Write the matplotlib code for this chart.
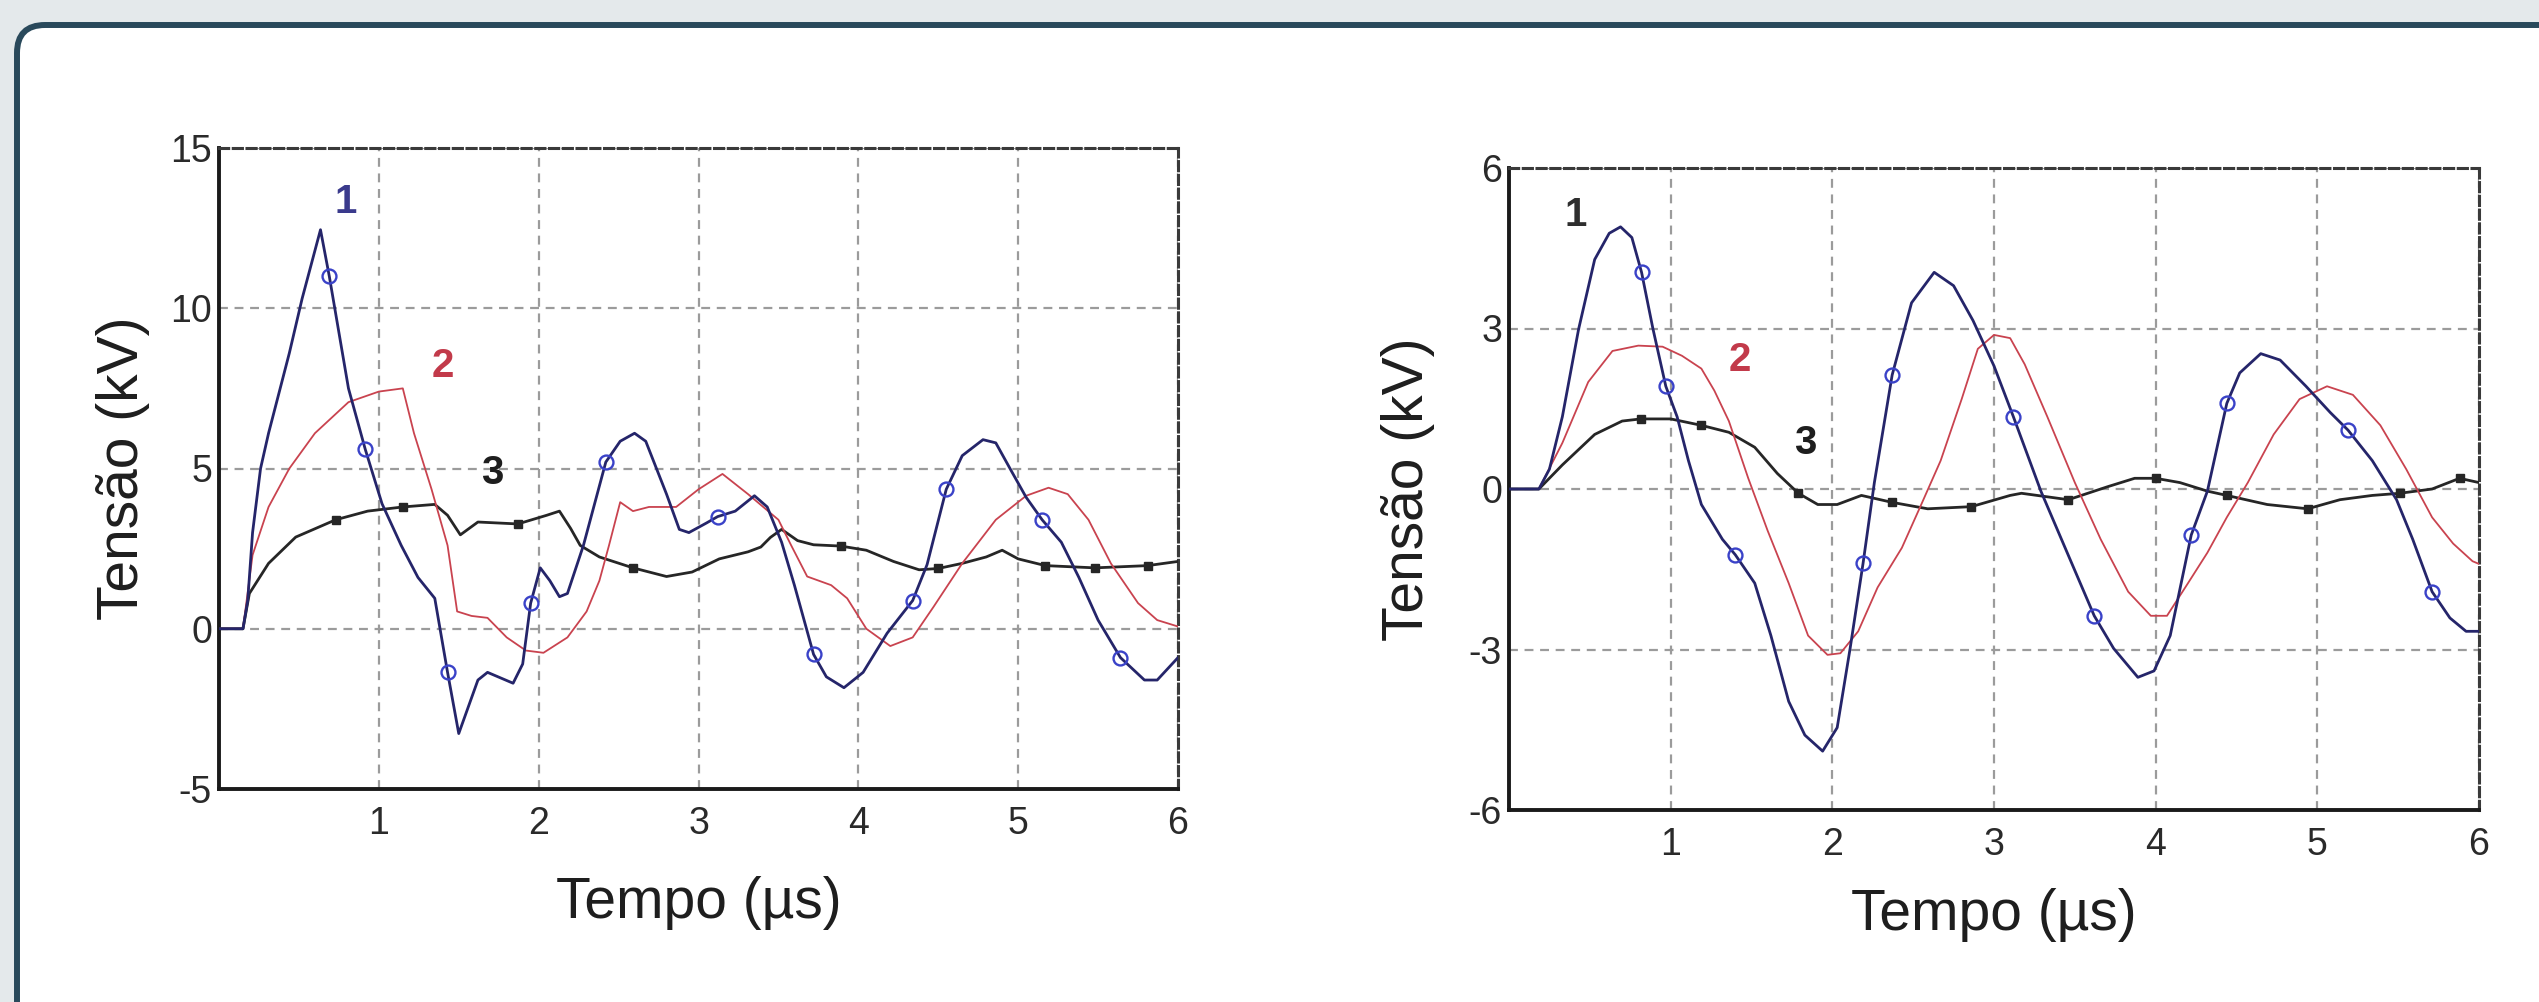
import matplotlib
matplotlib.use("Agg")
import matplotlib.pyplot as plt
from matplotlib.patches import FancyBboxPatch
from matplotlib import font_manager
import numpy as np

# left panel: curve 1 (blue, circles), curve 2 (red), curve 3 (black, squares)
l1_x = [0, 0.15, 0.18, 0.21, 0.26, 0.31, 0.44, 0.52, 0.635, 0.69, 0.75, 0.81, 0.915, 1.02, 1.14, 1.245,
        1.35, 1.43, 1.50, 1.62, 1.68, 1.84, 1.90, 1.95, 2.01, 2.07, 2.13, 2.18, 2.28, 2.42, 2.51, 2.60,
        2.67, 2.80, 2.88, 2.94, 3.05, 3.12, 3.23, 3.35, 3.43, 3.52, 3.60, 3.72, 3.80, 3.91, 4.03, 4.18,
        4.34, 4.43, 4.55, 4.65, 4.78, 4.86, 4.96, 5.05, 5.15, 5.27, 5.38, 5.50, 5.64, 5.79, 5.87, 6.0]
l1_y = [0, 0, 0.9, 3.0, 5.0, 6.1, 8.6, 10.3, 12.45, 11.0, 9.25, 7.5, 5.6, 3.9, 2.6, 1.6,
        0.95, -1.36, -3.27, -1.6, -1.36, -1.7, -1.1, 0.8, 1.9, 1.5, 1.0, 1.1, 2.6, 5.2, 5.85, 6.1,
        5.85, 4.2, 3.1, 3.0, 3.3, 3.5, 3.67, 4.15, 3.8, 2.7, 1.36, -0.8, -1.5, -1.84, -1.36, -0.14,
        0.88, 2.0, 4.35, 5.4, 5.9, 5.8, 4.9, 4.1, 3.4, 2.7, 1.6, 0.27, -0.9, -1.6, -1.6, -0.9]
l1_mx = [0.69, 0.915, 1.43, 1.95, 2.42, 3.12, 3.72, 4.34, 4.55, 5.15, 5.64]
l1_my = [11.0, 5.6, -1.36, 0.8, 5.2, 3.5, -0.8, 0.88, 4.35, 3.4, -0.9]

l2_x = [0, 0.15, 0.21, 0.31, 0.44, 0.60, 0.81, 1.0, 1.15, 1.22, 1.33, 1.43, 1.49, 1.58, 1.68, 1.80,
        1.92, 2.03, 2.18, 2.30, 2.38, 2.44, 2.51, 2.59, 2.69, 2.86, 3.0, 3.15, 3.31, 3.50, 3.58, 3.68,
        3.83, 3.93, 4.05, 4.20, 4.34, 4.47, 4.65, 4.86, 5.05, 5.19, 5.31, 5.44, 5.58, 5.75, 5.87, 6.0]
l2_y = [0, 0, 2.3, 3.8, 5.0, 6.1, 7.07, 7.4, 7.5, 6.1, 4.35, 2.6, 0.54, 0.4, 0.34, -0.27,
        -0.68, -0.75, -0.27, 0.54, 1.5, 2.6, 3.95, 3.67, 3.8, 3.8, 4.35, 4.83, 4.2, 3.4, 2.6, 1.63,
        1.36, 0.95, 0, -0.54, -0.27, 0.68, 2.04, 3.4, 4.15, 4.4, 4.2, 3.4, 2.04, 0.8, 0.27, 0.07]

l3_x = [0, 0.15, 0.19, 0.31, 0.48, 0.73, 0.93, 1.15, 1.35, 1.43, 1.51, 1.62, 1.87, 2.05, 2.13, 2.20,
        2.26, 2.38, 2.59, 2.80, 2.96, 3.13, 3.31, 3.39, 3.45, 3.52, 3.62, 3.72, 3.89, 4.05, 4.22, 4.38,
        4.50, 4.65, 4.80, 4.90, 5.00, 5.17, 5.48, 5.81, 6.0]
l3_y = [0, 0, 1.1, 2.04, 2.86, 3.4, 3.67, 3.8, 3.88, 3.54, 2.93, 3.33, 3.27, 3.54, 3.67, 3.13,
        2.6, 2.24, 1.9, 1.63, 1.77, 2.18, 2.4, 2.55, 2.85, 3.1, 2.75, 2.62, 2.58, 2.45, 2.1, 1.84,
        1.88, 2.04, 2.24, 2.45, 2.18, 1.97, 1.9, 1.97, 2.1]
l3_mx = [0.73, 1.15, 1.87, 2.59, 3.89, 4.50, 5.17, 5.48, 5.81]
l3_my = [3.4, 3.8, 3.27, 1.9, 2.58, 1.88, 1.97, 1.9, 1.97]

# right panel
r1_x = [0, 0.185, 0.25, 0.33, 0.43, 0.53, 0.62, 0.69, 0.76, 0.82, 0.89, 0.97, 1.04, 1.11, 1.19, 1.32,
        1.40, 1.52, 1.62, 1.73, 1.83, 1.94, 2.03, 2.11, 2.19, 2.26, 2.37, 2.49, 2.63, 2.75, 2.87, 3.0,
        3.12, 3.29, 3.44, 3.62, 3.74, 3.89, 3.99, 4.09, 4.22, 4.32, 4.44, 4.52, 4.65, 4.77, 4.93, 5.08,
        5.19, 5.34, 5.49, 5.59, 5.71, 5.82, 5.92, 6.0]
r1_y = [0, 0, 0.37, 1.35, 2.98, 4.29, 4.78, 4.9, 4.7, 4.05, 3.0, 1.92, 1.35, 0.53, -0.29, -0.94,
        -1.23, -1.76, -2.74, -3.97, -4.6, -4.9, -4.46, -2.98, -1.39, 0.12, 2.13, 3.48, 4.05, 3.8, 3.15, 2.3,
        1.35, -0.04, -1.1, -2.37, -2.98, -3.52, -3.4, -2.74, -0.86, -0.04, 1.6, 2.17, 2.53, 2.41, 1.92, 1.43,
        1.1, 0.53, -0.2, -0.94, -1.92, -2.41, -2.66, -2.66]
r1_mx = [0.82, 0.97, 1.40, 2.19, 2.37, 3.12, 3.62, 4.22, 4.44, 5.19, 5.71]
r1_my = [4.05, 1.92, -1.23, -1.39, 2.13, 1.35, -2.37, -0.86, 1.6, 1.1, -1.92]

r2_x = [0, 0.185, 0.33, 0.49, 0.64, 0.80, 0.95, 1.07, 1.19, 1.27, 1.36, 1.48, 1.60, 1.73, 1.85, 1.97,
        2.05, 2.16, 2.28, 2.43, 2.55, 2.67, 2.80, 2.90, 3.0, 3.10, 3.19, 3.33, 3.50, 3.66, 3.83, 3.97,
        4.07, 4.20, 4.32, 4.44, 4.57, 4.73, 4.89, 5.06, 5.22, 5.39, 5.55, 5.71, 5.84, 5.96, 6.0]
r2_y = [0, 0, 0.86, 2.0, 2.58, 2.68, 2.66, 2.49, 2.25, 1.84, 1.27, 0.2, -0.78, -1.76, -2.74, -3.1,
        -3.07, -2.66, -1.84, -1.1, -0.29, 0.53, 1.68, 2.62, 2.88, 2.82, 2.33, 1.35, 0.12, -0.94, -1.92, -2.37,
        -2.37, -1.76, -1.19, -0.53, 0.12, 1.02, 1.68, 1.92, 1.76, 1.19, 0.37, -0.53, -1.02, -1.35, -1.4]

r3_x = [0, 0.185, 0.33, 0.53, 0.70, 0.815, 1.0, 1.19, 1.36, 1.52, 1.66, 1.79, 1.91, 2.03, 2.18, 2.37,
        2.59, 2.86, 3.1, 3.17, 3.46, 3.70, 3.87, 4.0, 4.15, 4.32, 4.44, 4.69, 4.94, 5.14, 5.34, 5.51,
        5.71, 5.88, 6.0]
r3_y = [0, 0, 0.45, 1.02, 1.27, 1.31, 1.31, 1.19, 1.06, 0.78, 0.29, -0.08, -0.29, -0.29, -0.12, -0.25,
        -0.37, -0.33, -0.12, -0.08, -0.2, 0.04, 0.2, 0.2, 0.12, -0.04, -0.12, -0.29, -0.37, -0.2, -0.12, -0.08,
        0.0, 0.2, 0.12]
r3_mx = [0.815, 1.19, 1.79, 2.37, 2.86, 3.46, 4.0, 4.44, 4.94, 5.51, 5.88]
r3_my = [1.31, 1.19, -0.08, -0.25, -0.33, -0.2, 0.2, -0.12, -0.37, -0.08, 0.2]

xticks = [1, 2, 3, 4, 5, 6]
left_yticks = [-5, 0, 5, 10, 15]
right_yticks = [-6, -3, 0, 3, 6]
# curve number labels: (text, x, y, colour)
left_tags = [("1", 0.79, 13.3, "#3a3a8c"), ("2", 1.40, 8.2, "#c23a4a"), ("3", 1.71, 4.85, "#1e1e1e")]
right_tags = [("1", 0.41, 5.13, "#2e2e2e"), ("2", 1.43, 2.41, "#c23a4a"), ("3", 1.83, 0.86, "#1e1e1e")]

C1 = "#25256a"
C1M = "#3a42c8"
C2 = "#c9434f"
C3 = "#262626"

names = {f.name for f in font_manager.fontManager.ttflist}
tickfam = "Liberation Sans Narrow" if "Liberation Sans Narrow" in names else "Liberation Sans"
tickfs = 29 if tickfam == "Liberation Sans Narrow" else 27
plt.rcParams["font.family"] = ["Liberation Sans", "DejaVu Sans"]
plt.rcParams["axes.unicode_minus"] = False

fig = plt.figure(figsize=(25.39, 10.02), dpi=100)
fig.patch.set_facecolor("#e4e9eb")

frame = FancyBboxPatch((0.17, -0.6), 26.0, 9.77 + 0.6,
                       boxstyle="round,pad=0,rounding_size=0.28",
                       transform=fig.dpi_scale_trans, facecolor="white",
                       edgecolor="#29495b", linewidth=4.3, zorder=-10)
fig.patches.append(frame)

axL = fig.add_axes([219 / 2539, 1 - 789 / 1002, 959 / 2539, 641 / 1002])
axR = fig.add_axes([1509 / 2539, 1 - 810 / 1002, 970 / 2539, 642 / 1002])


def draw(ax, c1x, c1y, m1x, m1y, c2x, c2y, c3x, c3y, m3x, m3y, yticks, tags, ylpos, xlpos):
    ax.plot(c3x, c3y, color=C3, lw=2.0, zorder=3)
    ax.plot(m3x, m3y, ls="none", marker="s", ms=6, color=C3, zorder=4)
    ax.plot(c2x, c2y, color=C2, lw=1.3, zorder=3)
    ax.plot(c1x, c1y, color=C1, lw=2.0, zorder=3)
    ax.plot(m1x, m1y, ls="none", marker="o", ms=10, mfc="none", mec=C1M, mew=1.7, zorder=4)

    ax.set_xlim(0, 6)
    ax.set_ylim(yticks[0], yticks[-1])
    ax.set_xticks(xticks)
    ax.set_yticks(yticks)
    ax.grid(True, color="#9b9b9b", lw=1.6, ls=(0, (4, 3)))
    ax.set_axisbelow(True)
    for side in ("left", "bottom"):
        ax.spines[side].set_linewidth(2.8)
        ax.spines[side].set_color("#1a1a1a")
    for side in ("top", "right"):
        ax.spines[side].set_linewidth(2.2)
        ax.spines[side].set_color("#3a3a3a")
        ax.spines[side].set_linestyle((0, (3, 1.5)))
    ax.tick_params(length=0)
    ax.tick_params(axis="x", pad=12)
    ax.tick_params(axis="y", pad=5)
    for lab in ax.get_xticklabels() + ax.get_yticklabels():
        lab.set_fontfamily(tickfam)
        lab.set_fontsize(tickfs)
        lab.set_color("#2a2a2a")

    ax.set_ylabel("Tensão (kV)", fontsize=41, color="#1e1e1e", va="center")
    ax.yaxis.set_label_coords(ylpos, 0.5)
    ax.set_xlabel("Tempo (µs)", fontsize=41, color="#1e1e1e", va="center")
    ax.xaxis.set_label_coords(0.5, xlpos)

    for t, tx, ty, col in tags:
        ax.text(tx, ty, t, fontsize=29, fontweight="bold", color=col,
                ha="center", va="center", zorder=5)


draw(axL, l1_x, l1_y, l1_mx, l1_my, l2_x, l2_y, l3_x, l3_y, l3_mx, l3_my,
     left_yticks, left_tags, -0.100, -0.178)
draw(axR, r1_x, r1_y, r1_mx, r1_my, r2_x, r2_y, r3_x, r3_y, r3_mx, r3_my,
     right_yticks, right_tags, -0.104, -0.164)

plt.savefig("out.png", dpi=100, facecolor=fig.get_facecolor())
